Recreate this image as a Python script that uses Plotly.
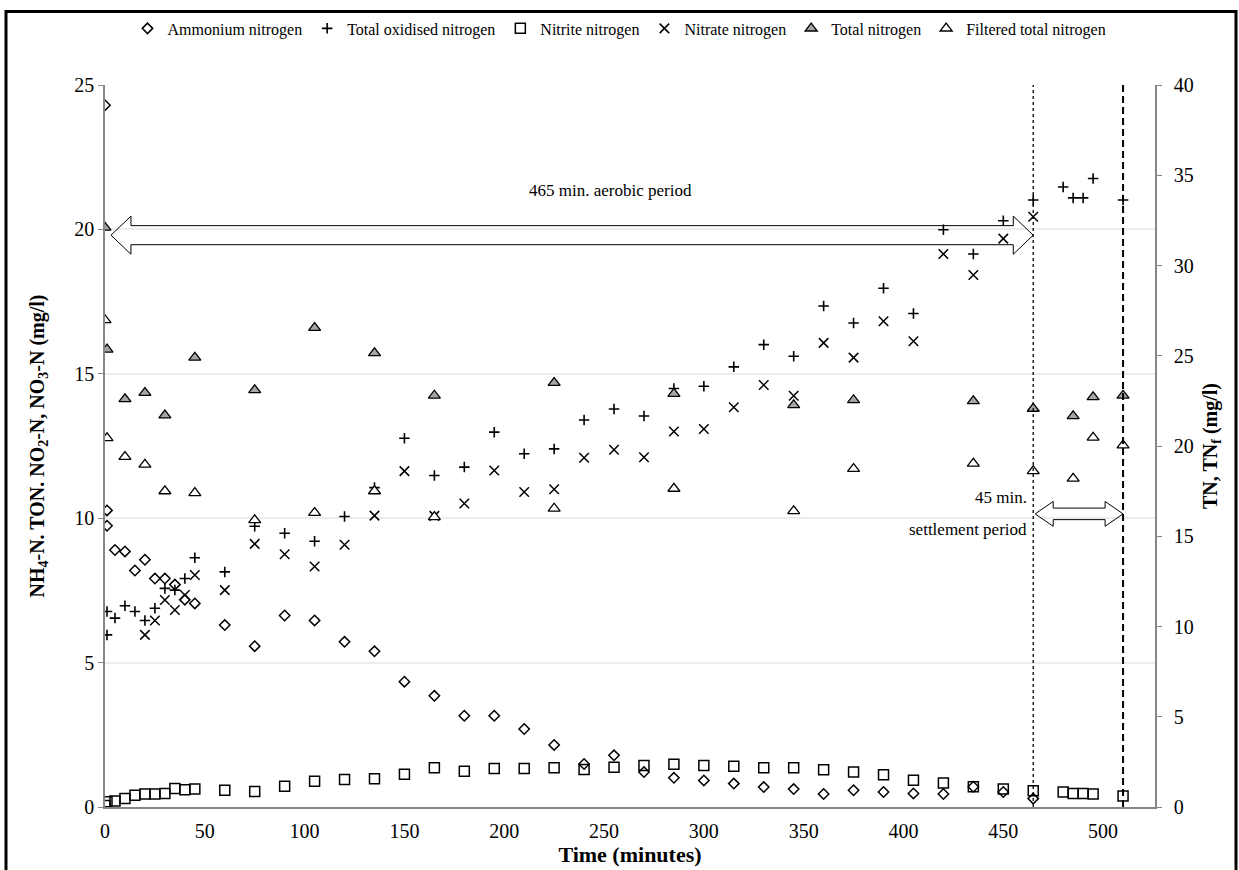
import plotly.graph_objects as go

# ---- sampling times (minutes) and concentrations (mg/l) ----
t_nh4 = [0, 1, 1, 5, 10, 15, 20, 25, 30, 35, 40, 45, 60, 75, 90, 105, 120, 135, 150, 165,
         180, 195, 210, 225, 240, 255, 270, 285, 300, 315, 330, 345, 360, 375, 390, 405,
         420, 435, 450, 465]
nh4 = [24.3, 10.27, 9.74, 8.90, 8.85, 8.19, 8.56, 7.91, 7.91, 7.70, 7.18, 7.05, 6.30, 5.57,
       6.63, 6.46, 5.72, 5.39, 4.34, 3.85, 3.16, 3.16, 2.70, 2.15, 1.49, 1.79, 1.21, 1.01,
       0.92, 0.81, 0.69, 0.62, 0.45, 0.58, 0.52, 0.47, 0.45, 0.70, 0.52, 0.29]

t_ton = [1, 1, 5, 10, 15, 20, 25, 30, 35, 40, 45, 60, 75, 90, 105, 120, 135, 150, 165, 180,
         195, 210, 225, 240, 255, 270, 285, 300, 315, 330, 345, 360, 375, 390, 405, 420,
         435, 450, 465, 480, 485, 490, 495, 510]
ton = [6.77, 5.96, 6.54, 6.97, 6.77, 6.46, 6.88, 7.57, 7.51, 7.91, 8.63, 8.14, 9.72, 9.48,
       9.20, 10.06, 11.06, 12.77, 11.48, 11.77, 12.98, 12.23, 12.40, 13.40, 13.78, 13.54,
       14.49, 14.57, 15.24, 16.01, 15.61, 17.35, 16.76, 17.96, 17.09, 19.99, 19.15, 20.30,
       21.02, 21.47, 21.09, 21.09, 21.76, 21.02]

t_no2 = [0, 1, 5, 10, 15, 20, 25, 30, 35, 40, 45, 60, 75, 90, 105, 120, 135, 150, 165, 180,
         195, 210, 225, 240, 255, 270, 285, 300, 315, 330, 345, 360, 375, 390, 405, 420,
         435, 450, 465, 480, 485, 490, 495, 510]
no2 = [0.05, 0.18, 0.21, 0.29, 0.41, 0.45, 0.45, 0.47, 0.64, 0.60, 0.62, 0.58, 0.54, 0.72,
       0.89, 0.95, 0.98, 1.13, 1.36, 1.24, 1.33, 1.33, 1.36, 1.30, 1.38, 1.44, 1.48, 1.44,
       1.41, 1.36, 1.36, 1.29, 1.21, 1.12, 0.93, 0.83, 0.70, 0.62, 0.56, 0.52, 0.47, 0.47,
       0.45, 0.38]

t_no3 = [20, 25, 30, 35, 40, 45, 60, 75, 90, 105, 120, 135, 150, 165, 180, 195, 210, 225,
         240, 255, 270, 285, 300, 315, 330, 345, 360, 375, 390, 405, 420, 435, 450, 465]
no3 = [5.96, 6.46, 7.17, 6.82, 7.34, 8.03, 7.51, 9.11, 8.75, 8.33, 9.08, 10.09, 11.63, 10.08,
       10.51, 11.65, 10.91, 11.00, 12.09, 12.37, 12.11, 13.00, 13.09, 13.84, 14.61, 14.24,
       16.07, 15.56, 16.82, 16.13, 19.15, 18.42, 19.68, 20.44]

t_tn = [0, 1, 10, 20, 30, 45, 75, 105, 135, 165, 225, 285, 345, 375, 435, 465, 485, 495, 510]
tn = [32.1, 25.35, 22.6, 22.95, 21.7, 24.9, 23.1, 26.55, 25.15, 22.8, 23.5, 22.9, 22.27,
      22.55, 22.49, 22.07, 21.66, 22.71, 22.8]

t_tnf = [0, 1, 10, 20, 30, 45, 75, 105, 135, 165, 225, 285, 345, 375, 435, 465, 485, 495, 510]
tnf = [26.98, 20.44, 19.4, 18.97, 17.5, 17.4, 15.9, 16.3, 17.5, 16.07, 16.54, 17.64, 16.4,
       18.74, 19.03, 18.61, 18.2, 20.47, 20.04]

# phase boundaries (minutes)
aerobic_end = 465
settle_end = 510

FONT = "Liberation Serif"
W, H = 1239, 870
ML, MR, MT, MB = 105, 84, 79, 63

fig = go.Figure()

fig.add_trace(go.Scatter(
    x=t_nh4, y=nh4, mode="markers", name="Ammonium nitrogen",
    marker=dict(symbol="diamond-open", size=8, color="black", line=dict(width=1.5, color="black"))))
fig.add_trace(go.Scatter(
    x=t_ton, y=ton, mode="markers", name="Total oxidised nitrogen",
    marker=dict(symbol="cross-thin-open", size=7.5, color="black", line=dict(width=1.6, color="black"))))
fig.add_trace(go.Scatter(
    x=t_no2, y=no2, mode="markers", name="Nitrite nitrogen",
    marker=dict(symbol="square-open", size=10, color="black", line=dict(width=1.5, color="black"))))
fig.add_trace(go.Scatter(
    x=t_no3, y=no3, mode="markers", name="Nitrate nitrogen",
    marker=dict(symbol="x-thin-open", size=9.5, color="black", line=dict(width=1.5, color="black"))))
fig.add_trace(go.Scatter(
    x=t_tn, y=tn, mode="markers", name="Total nitrogen", yaxis="y2",
    marker=dict(symbol="triangle-up", size=10.5, color="#a6a6a6", line=dict(width=1.3, color="black"))))
fig.add_trace(go.Scatter(
    x=t_tnf, y=tnf, mode="markers", name="Filtered total nitrogen", yaxis="y2",
    marker=dict(symbol="triangle-up", size=10.5, color="white", line=dict(width=1.3, color="black"))))


def block_arrow(x0, x1, yc, shaft, head, hl):
    """Closed path of a double-headed block arrow in data coordinates."""
    pts = [(x0, yc), (x0 + hl, yc + head), (x0 + hl, yc + shaft), (x1 - hl, yc + shaft),
           (x1 - hl, yc + head), (x1, yc), (x1 - hl, yc - head), (x1 - hl, yc - shaft),
           (x0 + hl, yc - shaft), (x0 + hl, yc - head)]
    return "M " + " L ".join(f"{x},{y}" for x, y in pts) + " Z"


shapes = [
    # outer frame
    dict(type="rect", xref="paper", yref="paper",
         x0=(6 - ML) / (W - ML - MR), x1=(1236 - ML) / (W - ML - MR),
         y0=-0.3, y1=(H - MB - 5) / (H - MT - MB),
         line=dict(color="black", width=3), fillcolor="rgba(0,0,0,0)", layer="above"),
    # end of aerobic period
    dict(type="line", xref="x", yref="paper", x0=aerobic_end, x1=aerobic_end, y0=0, y1=1,
         line=dict(color="black", width=1.3, dash="3px,3px")),
    # end of settlement period
    dict(type="line", xref="x", yref="paper", x0=settle_end, x1=settle_end, y0=0, y1=1,
         line=dict(color="black", width=2, dash="7px,4px")),
    # aerobic period arrow
    dict(type="path", xref="x", yref="y", path=block_arrow(3, aerobic_end, 19.8, 0.33, 0.66, 10),
         line=dict(color="black", width=1), fillcolor="rgba(255,255,255,0)"),
    # settlement period arrow
    dict(type="path", xref="x", yref="y",
         path=block_arrow(aerobic_end + 1, settle_end, 10.15, 0.2, 0.43, 9),
         line=dict(color="black", width=1), fillcolor="rgba(255,255,255,0)"),
]

annotations = [
    dict(x=253, y=21.33, xref="x", yref="y", text="465 min. aerobic period", showarrow=False,
         font=dict(family=FONT, size=17, color="black")),
    dict(x=463, y=10.7, xref="x", yref="y", text="45 min.", showarrow=False,
         xanchor="right", font=dict(family=FONT, size=17, color="black")),
    dict(x=463, y=9.6, xref="x", yref="y", text="settlement period", showarrow=False,
         xanchor="right", font=dict(family=FONT, size=17, color="black")),
]

axis_common = dict(showline=True, linecolor="#868686", linewidth=1.5, zeroline=False,
                   tickfont=dict(family=FONT, size=20, color="black"))

fig.update_layout(
    width=W, height=H,
    margin=dict(l=ML, r=MR, t=MT, b=MB),
    paper_bgcolor="white", plot_bgcolor="white",
    font=dict(family=FONT, color="black"),
    showlegend=True,
    legend=dict(orientation="h", x=0.49, xanchor="center", y=(H - MB - 22) / (H - MT - MB),
                yanchor="middle", font=dict(family=FONT, size=16, color="black"),
                itemwidth=30, bgcolor="rgba(0,0,0,0)"),
    xaxis=dict(range=[0, 526], tickvals=[0, 50, 100, 150, 200, 250, 300, 350, 400, 450, 500],
               showgrid=False, ticks="", ticklabelstandoff=5,
               title=dict(text="<b>Time (minutes)</b>", font=dict(family=FONT, size=22),
                          standoff=2),
               **axis_common),
    yaxis=dict(range=[0, 25], dtick=5, ticks="outside", ticklen=5, tickcolor="#868686",
               showgrid=True, gridcolor="#ececec", gridwidth=1.5,
               title=dict(text="<b>NH<sub>4</sub>-N. TON. NO<sub>2</sub>-N, NO<sub>3</sub>-N (mg/l)</b>",
                          font=dict(family=FONT, size=20), standoff=24),
               **axis_common),
    yaxis2=dict(range=[0, 40], dtick=5, overlaying="y", side="right", ticks="outside",
                ticklen=5, tickcolor="#868686", showgrid=False, ticklabelstandoff=8,
                title=dict(text="<b>TN, TN<sub>f</sub> (mg/l)</b>",
                           font=dict(family=FONT, size=20), standoff=10),
                **axis_common),
    shapes=shapes,
    annotations=annotations,
)

fig.write_html("out.html")
